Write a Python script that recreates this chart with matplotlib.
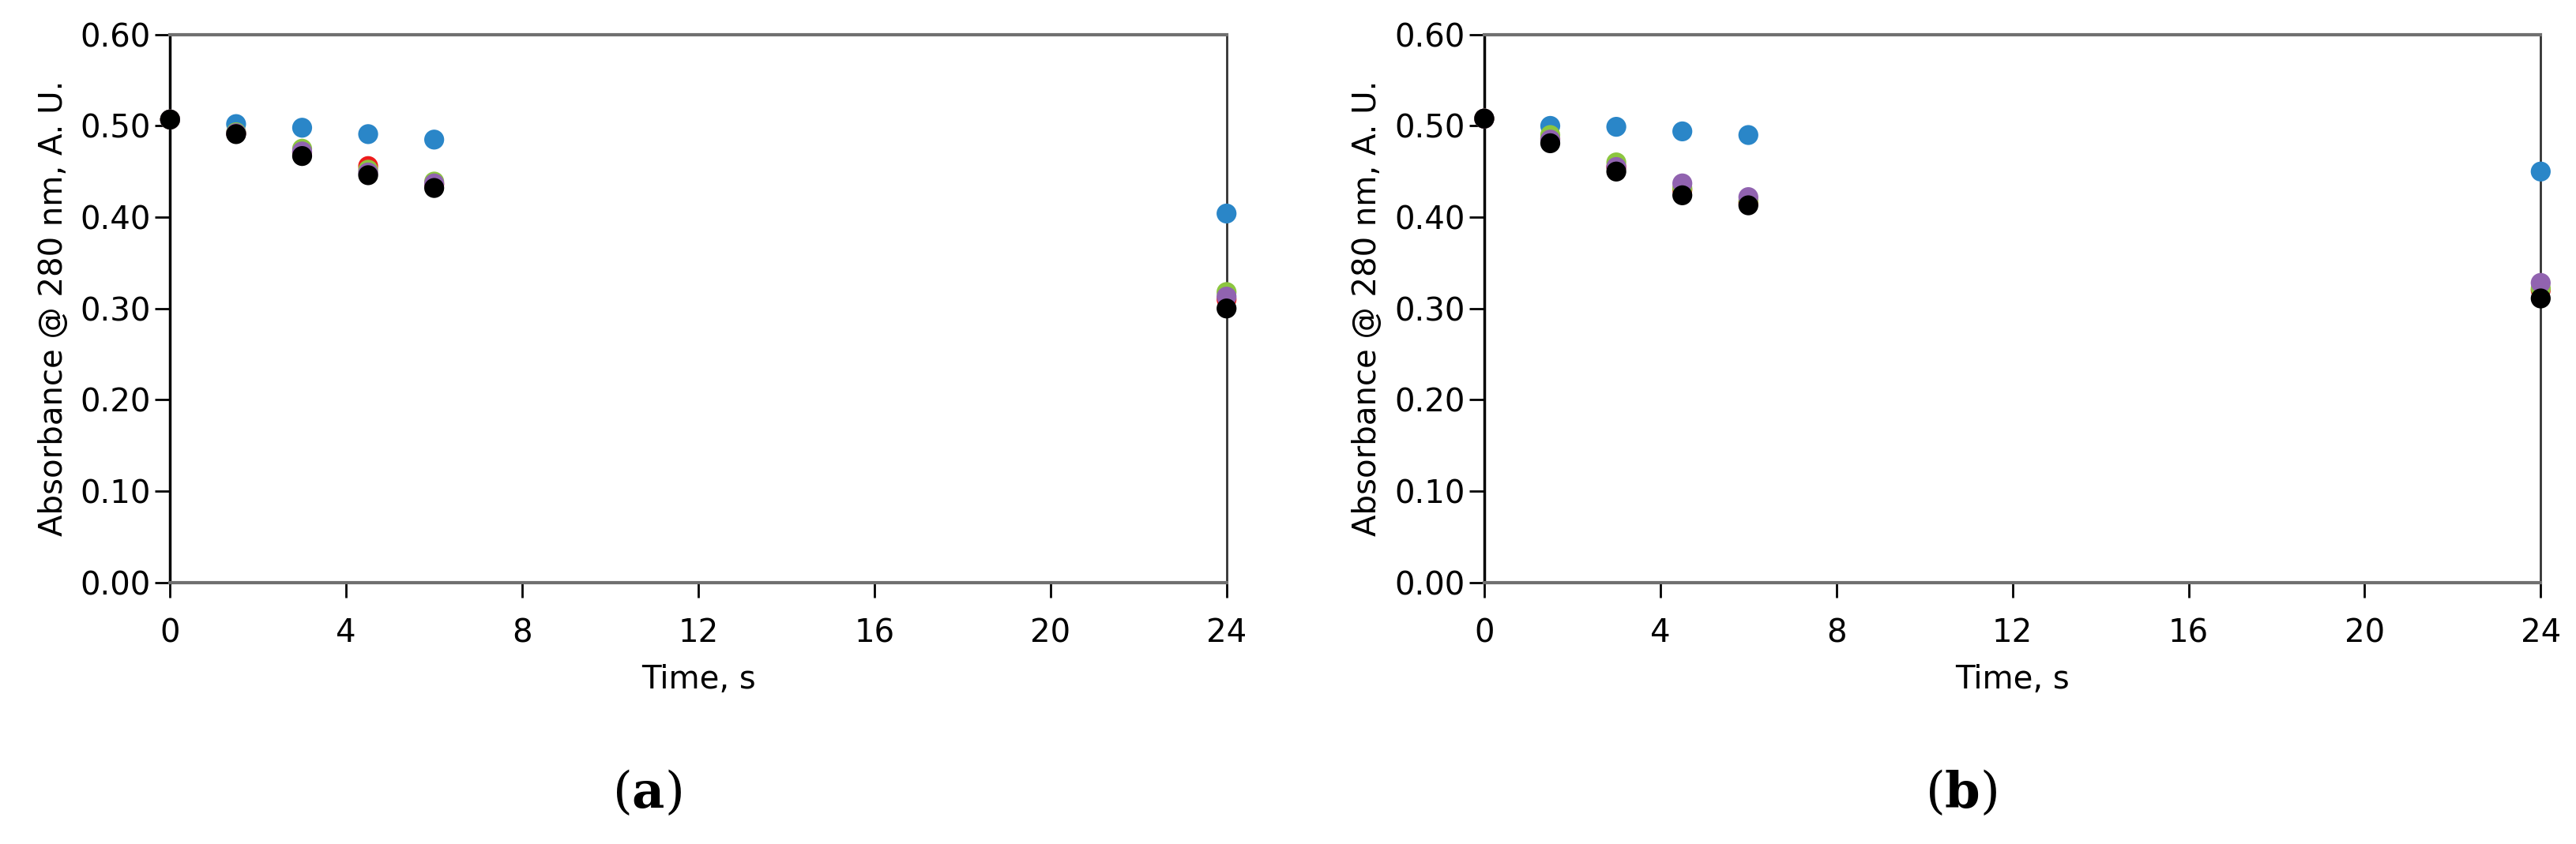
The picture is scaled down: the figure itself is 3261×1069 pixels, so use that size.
import matplotlib.pyplot as plt

plt.rcParams["mathtext.fontset"] = "dejavuserif"

# time points, s
time = [0, 1.5, 3, 4.5, 6, 24]

# panel (a)
a_blue = [0.507, 0.502, 0.498, 0.491, 0.485, 0.404]
a_red = [0.507, 0.492, 0.471, 0.456, 0.436, 0.310]
a_green = [0.507, 0.493, 0.475, 0.452, 0.439, 0.318]
a_purple = [0.507, 0.492, 0.472, 0.449, 0.437, 0.313]
a_black = [0.507, 0.491, 0.467, 0.446, 0.432, 0.300]

# panel (b)
b_blue = [0.508, 0.500, 0.499, 0.494, 0.490, 0.450]
b_red = [0.508, 0.486, 0.455, 0.430, 0.416, 0.320]
b_green = [0.508, 0.490, 0.460, 0.432, 0.418, 0.322]
b_purple = [0.508, 0.485, 0.455, 0.437, 0.422, 0.328]
b_black = [0.508, 0.481, 0.450, 0.424, 0.413, 0.311]

colors = ["#2a86c8", "#ee1c1c", "#8cc63f", "#9163b0", "#000000"]
xticks = [0, 4, 8, 12, 16, 20, 24]
yticks = [0.0, 0.1, 0.2, 0.3, 0.4, 0.5, 0.6]

fig = plt.figure(figsize=(32.62, 10.69), dpi=100)
panels = [
    ([0.066, 0.310, 0.410, 0.649], [a_blue, a_red, a_green, a_purple, a_black], "a"),
    ([0.576, 0.310, 0.410, 0.649], [b_blue, b_red, b_green, b_purple, b_black], "b"),
]
for rect, series, letter in panels:
    ax = fig.add_axes(rect)
    for vals, c in zip(series, colors):
        ax.scatter(time, vals, s=330, color=c, edgecolors="none", zorder=3, clip_on=False)
    ax.set_xlim(0, 24)
    ax.set_ylim(0, 0.6)
    ax.set_xticks(xticks)
    ax.set_yticks(yticks)
    ax.set_yticklabels([f"{v:.2f}" for v in yticks])
    ax.tick_params(axis="both", labelsize=29, length=14, width=2, direction="out")
    ax.tick_params(axis="x", pad=18)
    ax.spines["left"].set_color("black")
    ax.spines["left"].set_linewidth(2.5)
    ax.spines["right"].set_color("#333333")
    ax.spines["right"].set_linewidth(2)
    for sp in ["top", "bottom"]:
        ax.spines[sp].set_color("#707070")
        ax.spines[sp].set_linewidth(3)
    ax.set_xlabel("Time, s", fontsize=29, labelpad=14)
    ax.set_ylabel("Absorbance @ 280 nm, A. U.", fontsize=29, labelpad=10)
    cx = rect[0] + rect[2] / 2 - 0.02
    fig.text(cx, 0.06, rf"($\mathbf{{{letter}}}$)", ha="center", va="center",
             fontsize=46, family="DejaVu Serif")

plt.savefig("out.png", dpi=100)
